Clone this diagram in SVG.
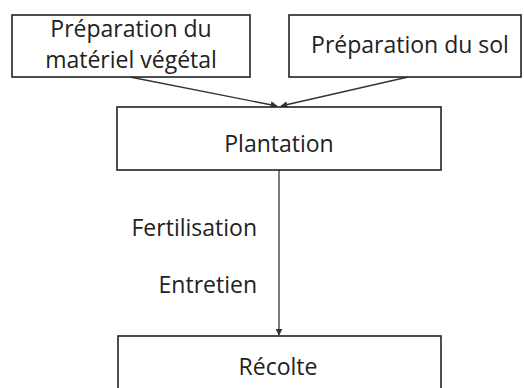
<svg xmlns="http://www.w3.org/2000/svg" width="524" height="388" viewBox="0 0 524 388">
<defs>
<style>
.box{fill:#fff;stroke:#222;stroke-width:1.6}
.t{font-family:"Open Sans","Liberation Sans",sans-serif;font-size:23px;fill:#222}
.c{stroke:#333;stroke-width:1.3;fill:none}
</style>
<marker id="ah" viewBox="0 0 10 10" refX="9" refY="5" markerWidth="7" markerHeight="7" orient="auto-start-reverse" markerUnits="userSpaceOnUse">
<path d="M0,0 L10,5 L0,10 z" fill="#333"/>
</marker>
</defs>
<rect width="524" height="388" fill="#fff"/>
<g id="connectors">
<line class="c" x1="130" y1="77" x2="277" y2="106" marker-end="url(#ah)"/>
<line class="c" x1="408" y1="77" x2="281" y2="106" marker-end="url(#ah)"/>
<line class="c" x1="279" y1="170" x2="279" y2="335" marker-end="url(#ah)"/>
</g>
<g id="n1">
<rect class="box" x="12" y="15" width="238" height="62"/>
<text class="t" x="131" y="37" text-anchor="middle">Préparation du</text>
<text class="t" x="131" y="68" text-anchor="middle">matériel végétal</text>
</g>
<g id="n2">
<rect class="box" x="289" y="15" width="232" height="62"/>
<text class="t" x="410" y="53" text-anchor="middle">Préparation du sol</text>
</g>
<g id="n3">
<rect class="box" x="117" y="107" width="324" height="63"/>
<text class="t" x="279" y="152" text-anchor="middle">Plantation</text>
</g>
<g id="labels">
<text class="t" x="257" y="236" text-anchor="end">Fertilisation</text>
<text class="t" x="257" y="293" text-anchor="end">Entretien</text>
</g>
<g id="n4">
<rect class="box" x="118" y="336" width="323" height="60"/>
<text class="t" x="278" y="375" text-anchor="middle">Récolte</text>
</g>
</svg>
